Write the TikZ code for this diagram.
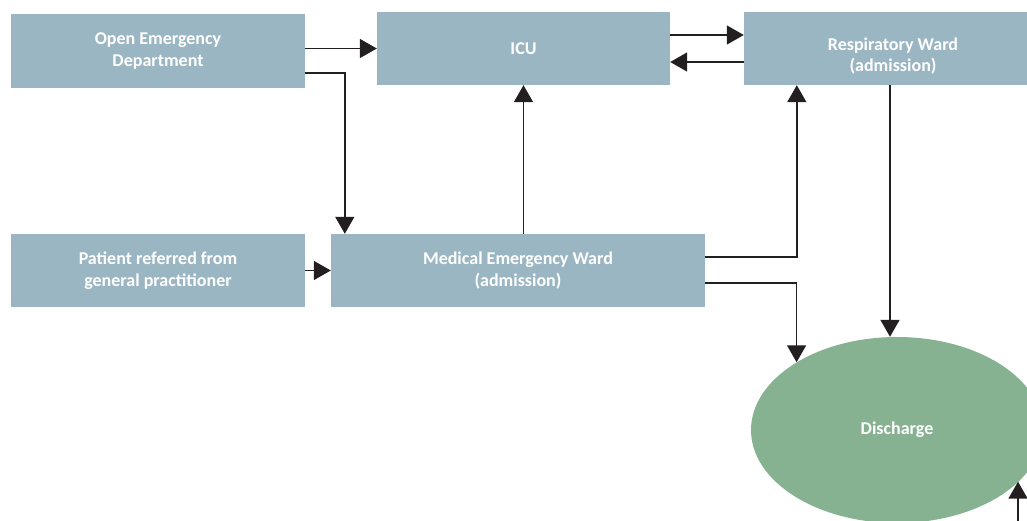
\documentclass[tikz,border=0pt]{standalone}
\usepackage{fontspec}
\setmainfont{Carlito}
\usetikzlibrary{arrows.meta,shapes.geometric}
\definecolor{boxblue}{HTML}{9BB6C3}
\definecolor{discgreen}{HTML}{86B292}
\definecolor{linedark}{HTML}{231F20}
\begin{document}
\begin{tikzpicture}[x=1pt,y=-1pt,
  wardtext/.style={inner sep=0pt, text=white, align=center,
    font=\bfseries\fontsize{18}{21.6}\selectfont},
  ward/.style={wardtext, rectangle, fill=boxblue},
  flow/.style={draw=linedark, line width=1.6pt, -{Triangle[length=17pt,width=19pt]}}]
\useasboundingbox (0,0) rectangle (1027,521);
\clip (0,0) rectangle (1027,521);
\node[ward, minimum width=294pt, minimum height=74pt] (oed) at (158,51){Open Emergency\\Department};
\node[ward, minimum width=293pt, minimum height=73pt] (icu) at (523.5,48.5){ICU};
\node[ward, minimum width=298pt, minimum height=73pt] (resp) at (893,48.5){};
\node[wardtext] (resplabel) at (893,56){Respiratory Ward\\(admission)};
\node[ward, minimum width=294pt, minimum height=73pt] (pat) at (158,270.5){Patient referred from\\general practitioner};
\node[ward, minimum width=374pt, minimum height=73pt] (med) at (518,270.5){Medical Emergency Ward\\(admission)};
\node[ellipse, fill=discgreen, inner sep=0pt, minimum width=292pt, minimum height=186pt,
  text=white, font=\bfseries\fontsize{18}{21.6}\selectfont] (dis) at (897,430){Discharge};
\coordinate (src) at (1018,521);
\draw[flow] (oed.east |- icu.west) -- (icu.west);
\draw[flow] ([yshift=-22pt]oed.east) -| ([xshift=14pt]med.north west);
\draw[flow] (pat) -- (med);
\draw[flow] (med.north -| icu.south) -- (icu.south);
\draw[flow] ([yshift=13.5pt]icu.east) -- ([yshift=13.5pt]resp.west);
\draw[flow] ([yshift=-13.5pt]resp.west) -- ([yshift=-13.5pt]icu.east);
\draw[flow] ([yshift=13.5pt]med.east) -| ([xshift=53pt]resp.south west);
\draw[flow] ([yshift=-12.5pt]med.east) -| (dis.146);
\draw[flow] ([xshift=-3pt]resp.south) -- ([xshift=-3pt]resp.south |- dis.north);
\draw[flow] (src) -- (src |- dis.337);
\end{tikzpicture}
\end{document}
